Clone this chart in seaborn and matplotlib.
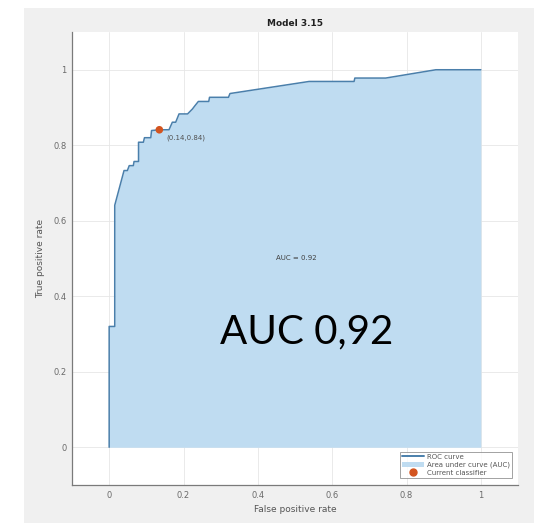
import matplotlib
matplotlib.use("Agg")
import matplotlib.pyplot as plt
import matplotlib.patches as mpatches
from matplotlib.lines import Line2D
import seaborn as sns
import pandas as pd

# ROC curve points
fpr = [0.0, 0.0, 0.015, 0.015, 0.040, 0.049, 0.054, 0.065, 0.067, 0.079, 0.079,
       0.092, 0.095, 0.112, 0.114, 0.135, 0.161, 0.170, 0.179, 0.188, 0.211,
       0.224, 0.231, 0.240, 0.268, 0.270, 0.321, 0.325, 0.538, 0.659, 0.661,
       0.744, 0.879, 1.0]
tpr = [0.0, 0.32, 0.32, 0.641, 0.733, 0.733, 0.746, 0.746, 0.757, 0.757, 0.808,
       0.808, 0.820, 0.820, 0.839, 0.841, 0.841, 0.861, 0.861, 0.883, 0.883,
       0.896, 0.905, 0.916, 0.916, 0.927, 0.927, 0.937, 0.969, 0.969, 0.978,
       0.978, 1.0, 1.0]
current_fpr = [0.135]
current_tpr = [0.841]
current_label = "(0.14,0.84)"
auc_small = "AUC = 0.92"
auc_big = "AUC 0,92"
title = "Model 3.15"
xticks = [0, 0.2, 0.4, 0.6, 0.8, 1]
yticks = [0, 0.2, 0.4, 0.6, 0.8, 1]
xticklabels = ["0", "0.2", "0.4", "0.6", "0.8", "1"]
yticklabels = ["0", "0.2", "0.4", "0.6", "0.8", "1"]
legend_labels = ["ROC curve", "Area under curve (AUC)", "Current classifier"]

df = pd.DataFrame({"fpr": fpr, "tpr": tpr})
cur = pd.DataFrame({"fpr": current_fpr, "tpr": current_tpr})

sns.set_style("white")
plt.rcParams["font.family"] = ["DejaVu Sans"]

line_col = "#4a7fab"
fill_col = "#bfdcf1"
dot_col = "#d3541f"
tick_col = "#6a6a6a"

fig = plt.figure(figsize=(5.34, 5.25), dpi=100, facecolor="white")
fig.patches.append(mpatches.Rectangle((24 / 534, 0.004), 1 - 24 / 534, 0.981,
                                      transform=fig.transFigure, facecolor="#f0f0f0",
                                      edgecolor="none", zorder=-10))
ax = fig.add_axes([72 / 534, 40 / 525, 446 / 534, 453 / 525])
ax.set_facecolor("white")

ax.fill_between(df["fpr"], df["tpr"], 0, color=fill_col, linewidth=0, zorder=1)
sns.lineplot(data=df, x="fpr", y="tpr", sort=False, estimator=None, ax=ax,
             color=line_col, linewidth=1.1, zorder=3)
sns.scatterplot(data=cur, x="fpr", y="tpr", ax=ax, color=dot_col, s=30,
                edgecolor="none", zorder=4)

ax.text(current_fpr[0] + 0.018, current_tpr[0] - 0.021, current_label,
        fontsize=5, color="#505050", va="center", ha="left")
ax.text(0.503, 0.50, auc_small, fontsize=5, color="#404040", ha="center", va="center")

ax.set_xlim(-0.1, 1.1)
ax.set_ylim(-0.1, 1.1)
ax.set_xticks(xticks)
ax.set_xticklabels(xticklabels)
ax.set_yticks(yticks)
ax.set_yticklabels(yticklabels)
ax.grid(True, color="#e6e6e6", linewidth=0.6)
ax.set_axisbelow(True)
ax.tick_params(axis="both", direction="in", length=3, width=0.6, colors=tick_col,
               labelsize=6, labelcolor=tick_col, pad=4)
for s in ["top", "right"]:
    ax.spines[s].set_visible(False)
for s in ["left", "bottom"]:
    ax.spines[s].set_color("#7a7a7a")
    ax.spines[s].set_linewidth(0.9)

ax.set_xlabel("False positive rate", fontsize=6.5, color="#555555", labelpad=4)
ax.set_ylabel("True positive rate", fontsize=6.5, color="#555555", labelpad=6)
ax.set_title(title, fontsize=6.5, fontweight="bold", color="#202020", pad=4)

handles = [Line2D([0], [0], color=line_col, linewidth=1.4),
           mpatches.Patch(facecolor=fill_col, edgecolor="none"),
           Line2D([0], [0], color=dot_col, marker="o", linestyle="none", markersize=5)]
leg = ax.legend(handles, legend_labels, loc="lower right",
                bbox_to_anchor=(0.9865, 0.0155), fontsize=5, frameon=True,
                fancybox=False, borderpad=0.3, labelspacing=0.25, handlelength=3.2,
                handletextpad=0.4, borderaxespad=0)
leg.get_frame().set_edgecolor("#8a8a8a")
leg.get_frame().set_linewidth(0.7)
for t in leg.get_texts():
    t.set_color("#555555")

fig.text(306.5 / 534, 1 - 331.7 / 525, auc_big, fontsize=29, family=["Lato", "DejaVu Sans"],
         color="black", ha="center", va="center")

fig.savefig("out.png", dpi=100, facecolor="white")
